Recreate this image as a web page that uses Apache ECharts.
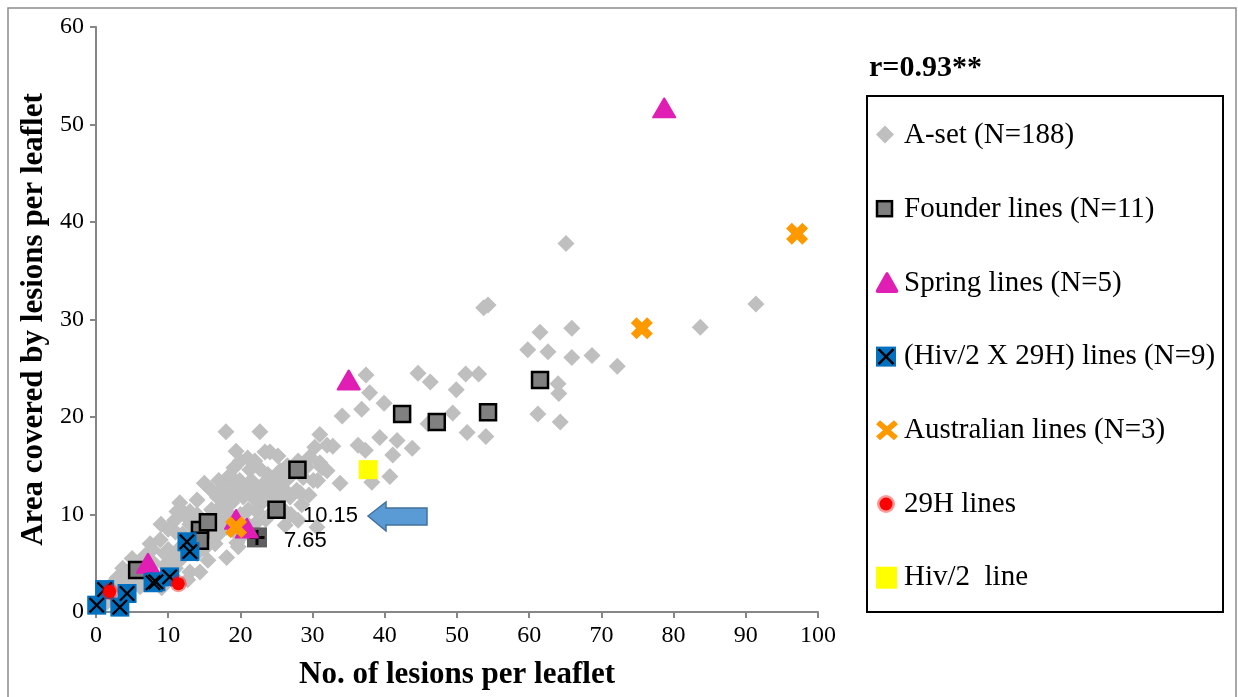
<!DOCTYPE html>
<html>
<head>
<meta charset="utf-8">
<script src="https://cdn.jsdelivr.net/npm/echarts@6/dist/echarts.min.js"></script>
<style>
html, body { margin: 0; padding: 0; background: #fff; }
#chart { width: 1238px; height: 697px; }
</style>
</head>
<body>
<div id="chart"></div>
<script>
// values: [lesions per leaflet, area covered]
var aSet = [
  [65.1,37.8],[54.3,31.5],[53.7,31.2],[61.5,28.7],[65.9,29.1],[83.7,29.2],[91.4,31.6],[72.2,25.2],
  [68.7,26.3],[65.9,26.1],[62.6,26.7],[59.8,26.9],[64.0,23.4],[64.1,22.4],[64.3,19.5],[61.2,20.3],
  [53.0,24.4],[54.0,18.0],[51.2,24.4],[49.9,22.8],[46.3,23.6],[44.6,24.5],[49.4,20.4],[51.4,18.4],
  [46.0,19.3],[37.4,24.3],[37.9,22.5],[39.9,21.4],[36.8,20.8],[34.1,20.1],
  [39.3,17.9],[41.7,17.6],[43.8,16.8],[41.1,16.1],[36.3,17.1],[37.3,16.6],[32.8,17.0],[33.8,13.2],
  [38.2,13.3],[40.7,13.9],[31.0,18.2],[30.3,16.9],[29.6,15.9],[31.0,15.3],[29.2,14.9],[30.1,13.5],
  [28.7,13.8],[27.8,12.5],[26.9,11.8],[32.0,17.1],[31.3,14.8],[30.7,13.5],[28.3,12.2],
  [18.0,18.5],[22.7,18.5],[19.4,16.5],[24.1,16.4],[25.2,16.0],[23.4,16.4],[19.1,14.8],[21.3,14.6],
  [22.7,14.7],[23.8,14.1],[25.1,13.5],[26.6,13.7],[25.9,12.7],[24.5,12.8],[15.0,13.2],[17.6,12.8],
  [19.9,13.5],[21.3,12.5],[23.0,11.8],[18.1,11.5],[17.2,10.8],[18.6,9.9],[20.4,11.8],[21.1,10.5],
  [22.3,10.3],[22.7,11.0],[24.5,10.3],[11.6,11.2],[12.0,10.3],[10.9,9.4],[13.7,8.7],[15.8,7.7],
  [26.2,8.9],[28.0,9.4],[30.6,8.7],[18.1,13.2],[12.6,9.7],[16.8,11.8],[17.6,10.8],[18.6,12.2],
  [8.9,7.4],[7.8,6.4],[6.8,5.8],[10.0,6.4],[10.7,5.6],[11.6,5.3],[13.0,4.1],[15.5,5.3],
  [14.4,4.1],[3.7,4.5],[2.9,3.5],[5.7,3.0],[19.5,7.1],[19.0,8.4],[18.1,5.6],[6.1,2.6],
  [9.1,2.5],[12.7,3.3],[18.8,11.2],[21.7,11.8],[23.7,12.2],[16.8,9.2],[18.1,8.7],[19.7,6.7],
  [4.3,4.1],[2.4,3.0],[4.7,2.6],[13.0,10.3],[11.2,10.3],
  [9.5,4.8],[11.0,4.5],[12.5,6.5],[13.5,7.0],[14.0,6.0],[15.0,6.5],[16.5,7.0],[17.0,8.0],
  [16.0,8.5],[15.0,9.0],[14.0,10.0],[16.0,10.5],[17.0,9.5],[20.0,10.0],[21.0,9.0],[20.5,8.0],
  [22.0,9.0],[23.5,9.5],[24.0,11.5],[25.0,11.8],[26.0,10.5],[27.0,10.0],[21.5,13.5],[20.5,13.0],
  [22.0,12.5],[23.0,13.0],[24.0,13.8],[19.0,12.5],[17.0,13.5],[8.0,5.0],[7.0,4.2],[6.0,4.8],
  [5.0,3.5],[3.5,2.5],[2.0,1.5],[1.5,1.0],[8.5,3.5],[10.5,3.8],[11.5,6.5],[9.5,6.0],
  [12.0,8.0],[13.0,9.0],[11.0,8.2],[25.5,14.5],[26.5,15.0],[27.0,14.0],[28.0,15.5],[26.0,12.0],
  [28.5,11.0],[29.5,12.0],[32.0,14.5],[20.0,15.5],[21.0,15.8],[22.0,15.5],[18.5,14.0],[19.5,12.0],
  [14.0,11.5],[16.0,12.5],[10.0,8.5],[9.0,9.0],[7.5,7.0],[5.0,5.5],[4.0,3.0],[6.5,3.5]
];
var founder = [[5.7,4.3],[14.4,8.4],[14.4,7.3],[15.5,9.2],[25.0,10.5],[27.9,14.6],[42.4,20.3],[47.2,19.5],[54.3,20.5],[61.5,23.8]];
var founderMarked = [[22.3,7.65]];
var spring = [[78.7,51.7],[35.0,23.8],[7.2,5.0],[19.4,9.5],[20.9,8.6]];
var hivCross = [[0.1,0.7],[1.2,2.3],[3.3,0.5],[4.3,1.9],[7.9,3.0],[8.3,3.1],[10.2,3.6],[12.6,7.2],[13.0,6.2]];
var australian = [[97.1,38.8],[75.6,29.1],[19.4,8.7]];
var line29H = [[1.9,2.1],[11.4,2.9]];
var hiv2 = [[37.7,14.6]];
var xTicks = [0, 10, 20, 30, 40, 50, 60, 70, 80, 90, 100];
var yTicks = [0, 10, 20, 30, 40, 50, 60];

var names = ['A-set (N=188)', 'Founder lines (N=11)', 'Spring lines (N=5)', '(Hiv/2 X 29H) lines (N=9)',
             'Australian lines (N=3)', '29H lines', 'Hiv/2  line'];

var serif = '"Liberation Serif", "Times New Roman", serif';
var crossPath = 'path://M0,1 L1,0 L5,4 L9,0 L10,1 L6,5 L10,9 L9,10 L5,6 L1,10 L0,9 L4,5 Z';
var boldX = 'path://M0,2.6 L2.6,0 L5,2.4 L7.4,0 L10,2.6 L7.6,5 L10,7.4 L7.4,10 L5,7.6 L2.6,10 L0,7.4 L2.4,5 Z';
var plusPath = 'path://M4,0 L6,0 L6,4 L10,4 L10,6 L6,6 L6,10 L4,10 L4,6 L0,6 L0,4 L4,4 Z';

function svgIcon(body) {
  return 'image://data:image/svg+xml;charset=utf-8,' + encodeURIComponent(
    "<svg xmlns='http://www.w3.org/2000/svg' width='24' height='24' viewBox='0 0 24 24'>" + body + "</svg>");
}
var icons = [
  svgIcon("<polygon points='10,2 19,11 10,20 1,11' fill='#BFBFBF'/>"),
  svgIcon("<rect x='2' y='4' width='15' height='15' fill='#808080' stroke='#000' stroke-width='2.5'/>"),
  svgIcon("<path d='M12,1 Q13,1 14,3 L23,19 Q24,22 21,22 L3,22 Q0,22 1,19 L10,3 Q11,1 12,1 Z' fill='#E01EB4'/>"),
  svgIcon("<rect x='1' y='2' width='20' height='20' fill='#0070C0'/><path d='M3.5,4.5 L18.5,19.5 M18.5,4.5 L3.5,19.5' stroke='#000' stroke-width='2.5'/>"),
  svgIcon("<path d='M1,6 L5,2 L12,8 L19,2 L23,6 L16,12 L23,18 L19,22 L12,16 L5,22 L1,18 L8,12 Z' fill='#FF9900'/>"),
  svgIcon("<circle cx='11' cy='12' r='9' fill='#FF9999'/><circle cx='11' cy='12' r='6.5' fill='#FF0000'/>"),
  svgIcon("<rect x='1' y='1' width='21' height='22' fill='#FFFF00'/>")
];

var chart = echarts.init(document.getElementById('chart'));

var option = {
  animation: false,
  backgroundColor: '#fff',
  title: {
    text: 'r=0.93**',
    left: 864,
    top: 48,
    textStyle: { fontFamily: serif, fontWeight: 'bold', fontSize: 30, color: '#000' }
  },
  legend: {
    orient: 'vertical',
    left: 875,
    top: 121,
    itemWidth: 24,
    itemHeight: 24,
    itemGap: 44.7,
    padding: 0,
    selectedMode: false,
    textStyle: { fontFamily: serif, fontSize: 29, color: '#000', lineHeight: 24 },
    data: names.map(function (n, i) { return { name: n, icon: icons[i] }; })
  },
  grid: { left: 96, right: 420, top: 27, bottom: 85 },
  xAxis: {
    type: 'value',
    min: 0, max: 100, interval: 10,
    name: 'No. of lesions per leaflet',
    nameLocation: 'middle',
    nameGap: 47,
    nameTextStyle: { fontFamily: serif, fontWeight: 'bold', fontSize: 31, color: '#000' },
    axisLine: { onZero: false, lineStyle: { color: '#868686', width: 2 } },
    axisTick: { show: true, length: 6, lineStyle: { color: '#868686', width: 2 } },
    axisLabel: { fontFamily: serif, fontSize: 24, color: '#000', margin: 12,
      formatter: function (v) { return xTicks.indexOf(v) >= 0 ? String(v) : ''; } },
    splitLine: { show: false }
  },
  yAxis: {
    type: 'value',
    min: 0, max: 60, interval: 10,
    name: 'Area covered by lesions per leaflet',
    nameLocation: 'middle',
    nameGap: 46,
    nameTextStyle: { fontFamily: serif, fontWeight: 'bold', fontSize: 31, color: '#000' },
    axisLine: { show: true, lineStyle: { color: '#868686', width: 2 } },
    axisTick: { show: true, length: 6, lineStyle: { color: '#868686', width: 2 } },
    axisLabel: { fontFamily: serif, fontSize: 24, color: '#000', margin: 12,
      formatter: function (v) { return yTicks.indexOf(v) >= 0 ? String(v) : ''; } },
    splitLine: { show: false }
  },
  series: [
    {
      name: names[0], type: 'scatter', data: aSet,
      symbol: 'diamond', symbolSize: 17,
      itemStyle: { color: '#BFBFBF', opacity: 1 }
    },
    {
      name: names[1], type: 'scatter', data: founder,
      symbol: 'rect', symbolSize: 16,
      itemStyle: { color: '#808080', borderColor: '#000', borderWidth: 2.5, opacity: 1 }
    },
    {
      name: 'marked', type: 'scatter', data: founderMarked,
      symbol: 'rect', symbolSize: 20,
      itemStyle: { color: '#5F5F5F', opacity: 1 }
    },
    {
      name: 'marked', type: 'scatter', data: founderMarked,
      symbol: plusPath, symbolSize: 15,
      itemStyle: { color: '#000', opacity: 1 }
    },
    {
      name: names[2], type: 'scatter', data: spring,
      symbol: 'triangle', symbolSize: [22, 19],
      itemStyle: { color: '#E01EB4', borderColor: '#E01EB4', borderWidth: 2, borderJoin: 'round', opacity: 1 }
    },
    {
      name: names[3], type: 'scatter', data: hivCross,
      symbol: 'rect', symbolSize: 19,
      itemStyle: { color: '#0070C0', opacity: 1 }
    },
    {
      name: names[3], type: 'scatter', data: hivCross,
      symbol: crossPath, symbolSize: 16,
      itemStyle: { color: '#000', opacity: 1 }
    },
    {
      name: names[4], type: 'scatter', data: australian,
      symbol: boldX, symbolSize: 22,
      itemStyle: { color: '#FF9900', opacity: 1 }
    },
    {
      name: names[5], type: 'scatter', data: line29H,
      symbol: 'circle', symbolSize: 13,
      itemStyle: { color: '#FF0000', borderColor: 'rgba(255,0,0,0.4)', borderWidth: 4, opacity: 1 }
    },
    {
      name: names[6], type: 'scatter', data: hiv2,
      symbol: 'rect', symbolSize: 19,
      itemStyle: { color: '#FFFF00', opacity: 1 }
    }
  ],
  graphic: [
    // outer chart frame
    { type: 'rect', shape: { x: 8, y: 8, width: 1228, height: 700 }, style: { fill: 'none', stroke: '#8C8C8C', lineWidth: 1.5 }, silent: true },
    // legend box
    { type: 'rect', shape: { x: 867, y: 96, width: 356, height: 516 }, style: { fill: 'none', stroke: '#000', lineWidth: 2 }, silent: true },
    // arrow + value notes
    { type: 'polygon', shape: { points: [[368, 516], [386, 502], [386, 508], [427, 508], [427, 525], [386, 525], [386, 531]] },
      style: { fill: '#5B9BD5', stroke: '#41719C', lineWidth: 1.5 }, z: 10 },
    { type: 'text', x: 303, y: 516, style: { text: '10.15', fontFamily: '"Liberation Sans", Arial, sans-serif', fontSize: 22, fill: '#000', verticalAlign: 'middle' }, z: 10 },
    { type: 'text', x: 284, y: 541, style: { text: '7.65', fontFamily: '"Liberation Sans", Arial, sans-serif', fontSize: 22, fill: '#000', verticalAlign: 'middle' }, z: 10 }
  ]
};

chart.setOption(option);
</script>
</body>
</html>
